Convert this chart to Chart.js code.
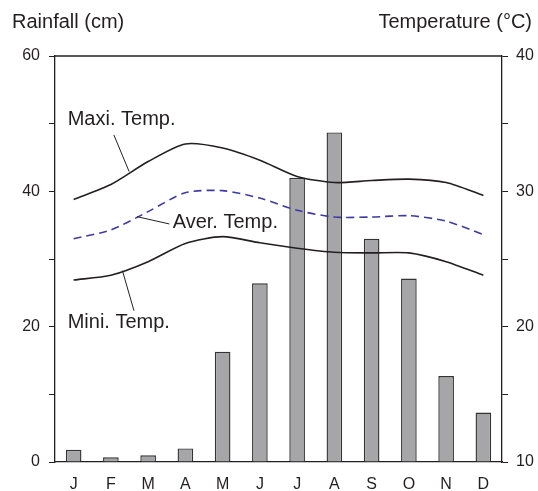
<!DOCTYPE html>
<html>
<head>
<meta charset="utf-8">
<script src="https://cdn.jsdelivr.net/npm/chart.js@4/dist/chart.umd.min.js"></script>
<style>
  html, body { margin: 0; padding: 0; background: #fff; }
  #wrap { width: 538px; height: 491px; position: relative; }
</style>
</head>
<body>
<div id="wrap"><canvas id="climate"></canvas></div>
<script>
// Climograph: monthly rainfall bars + max / avg / min temperature lines

const months = ['J', 'F', 'M', 'A', 'M', 'J', 'J', 'A', 'S', 'O', 'N', 'D'];

// rainfall in cm (left axis)
const rainfall = [1.8, 0.7, 1.0, 2.0, 16.3, 26.4, 42.0, 48.7, 33.0, 27.1, 12.7, 7.3];

// temperatures in °C (right axis)
const maxTemp = [29.4, 30.5, 32.2, 33.5, 33.2, 32.3, 31.1, 30.65, 30.8, 30.9, 30.65, 29.7];
const avgTemp = [26.5, 27.15, 28.5, 29.9, 30.05, 29.5, 28.6, 28.1, 28.1, 28.2, 27.8, 26.8];
const minTemp = [23.45, 23.8, 24.8, 26.15, 26.65, 26.2, 25.8, 25.5, 25.45, 25.45, 24.8, 23.8];

const rainTicks = [0, 20, 40, 60];
const tempTicks = [10, 20, 30, 40];

const FONT = '"Liberation Sans", Arial, Helvetica, sans-serif';
const INK = '#231f20';

// callouts: text anchor + leader line, in (month index, °C) coordinates
const callouts = [
  { text: 'Maxi. Temp.', at: [-0.16, 35.3], leader: [[1.08, 34.17], [1.49, 31.46]] },
  { text: 'Aver. Temp.', at: [2.66, 27.7], leader: [[1.70, 28.13], [2.57, 27.59]] },
  { text: 'Mini. Temp.', at: [-0.16, 20.3], leader: [[1.31, 24.14], [1.62, 21.18]] }
];

const decorPlugin = {
  id: 'decor',
  afterDraw(chart) {
    const { ctx, chartArea: a, scales } = chart;
    const x = scales.x, t = scales.yT;
    ctx.save();
    // top frame line
    ctx.strokeStyle = INK;
    ctx.lineWidth = 1.3;
    ctx.beginPath();
    ctx.moveTo(a.left, a.top);
    ctx.lineTo(a.right, a.top);
    ctx.stroke();

    // axis titles
    ctx.fillStyle = INK;
    ctx.font = '20px ' + FONT;
    ctx.textBaseline = 'middle';
    ctx.textAlign = 'left';
    ctx.fillText('Rainfall (cm)', 12, 22);
    ctx.textAlign = 'right';
    ctx.fillText('Temperature (°C)', 532, 22);

    // callouts
    ctx.textAlign = 'left';
    ctx.lineWidth = 1;
    callouts.forEach(c => {
      ctx.fillText(c.text, x.getPixelForValue(c.at[0]), t.getPixelForValue(c.at[1]));
      ctx.beginPath();
      ctx.moveTo(x.getPixelForValue(c.leader[0][0]), t.getPixelForValue(c.leader[0][1]));
      ctx.lineTo(x.getPixelForValue(c.leader[1][0]), t.getPixelForValue(c.leader[1][1]));
      ctx.stroke();
    });
    ctx.restore();
  }
};

const ctx = document.getElementById('climate').getContext('2d');

new Chart(ctx, {
  data: {
    labels: months,
    datasets: [
      {
        type: 'line',
        label: 'Maxi. Temp.',
        data: maxTemp,
        yAxisID: 'yT',
        borderColor: INK,
        borderWidth: 1.6,
        pointRadius: 0,
        tension: 0.25,
        order: 1
      },
      {
        type: 'line',
        label: 'Aver. Temp.',
        data: avgTemp,
        yAxisID: 'yT',
        borderColor: '#3b3ba6',
        borderWidth: 1.6,
        borderDash: [8, 5],
        pointRadius: 0,
        tension: 0.25,
        order: 1
      },
      {
        type: 'line',
        label: 'Mini. Temp.',
        data: minTemp,
        yAxisID: 'yT',
        borderColor: INK,
        borderWidth: 1.6,
        pointRadius: 0,
        tension: 0.25,
        order: 1
      },
      {
        type: 'bar',
        label: 'Rainfall',
        data: rainfall,
        yAxisID: 'yR',
        backgroundColor: '#a6a6a8',
        borderColor: '#333333',
        borderWidth: 1.4,
        barPercentage: 0.42,
        categoryPercentage: 1.0,
        order: 2
      }
    ]
  },
  options: {
    responsive: true,
    maintainAspectRatio: false,
    animation: false,
    layout: { padding: { top: 56, left: 0, right: 0, bottom: 0 } },
    plugins: {
      legend: { display: false },
      tooltip: { enabled: false }
    },
    scales: {
      x: {
        offset: true,
        grid: { display: false, drawTicks: false },
        border: { display: true, color: INK, width: 1.3 },
        ticks: { color: INK, font: { family: FONT, size: 16 }, padding: 13 },
        afterFit: s => { s.height = 29; }
      },
      yR: {
        position: 'left',
        min: 0,
        max: 60,
        grid: { drawOnChartArea: false, tickLength: 6, color: INK, lineWidth: 1 },
        border: { display: true, color: INK, width: 1.3 },
        ticks: {
          stepSize: 10,
          color: INK,
          padding: 9,
          font: { family: FONT, size: 16 },
          callback: v => rainTicks.includes(v) ? String(v) : ''
        },
        afterFit: s => { s.width = 55; }
      },
      yT: {
        position: 'right',
        min: 10,
        max: 40,
        grid: { drawOnChartArea: false, tickLength: 6, color: INK, lineWidth: 1 },
        border: { display: true, color: INK, width: 1.3 },
        ticks: {
          stepSize: 5,
          color: INK,
          padding: 8,
          font: { family: FONT, size: 16 },
          callback: v => tempTicks.includes(v) ? String(v) : ''
        },
        afterFit: s => { s.width = 36; }
      }
    }
  },
  plugins: [decorPlugin]
});
</script>
</body>
</html>
